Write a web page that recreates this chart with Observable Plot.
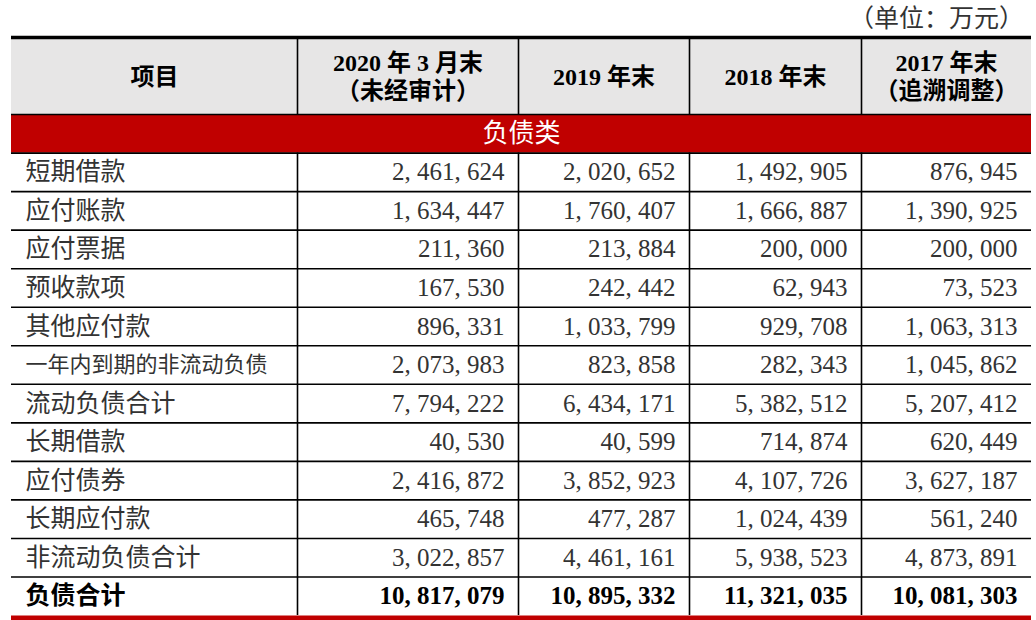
<!DOCTYPE html>
<html><head><meta charset="utf-8">
<script src="https://cdn.jsdelivr.net/npm/d3@7"></script>
<script src="https://cdn.jsdelivr.net/npm/@observablehq/plot@0.6"></script>
<style>
body{margin:0;background:#fff;}
#unit{height:33px;line-height:33px;text-align:right;padding-right:12px;font-family:"Noto Sans CJK SC";font-size:25px;color:#333;}
</style></head><body>
<div id="unit">（单位：万元）</div>
<div id="chart"></div>
<script>
// ---- data ----
const columns = ["项目", "2020 年 3 月末\n（未经审计）", "2019 年末", "2018 年末", "2017 年末\n（追溯调整）"];
const section = "负债类";
const items = ["短期借款", "应付账款", "应付票据", "预收款项", "其他应付款", "一年内到期的非流动负债",
  "流动负债合计", "长期借款", "应付债券", "长期应付款", "非流动负债合计", "负债合计"];
const v2020Q1 = [2461624, 1634447, 211360, 167530, 896331, 2073983, 7794222, 40530, 2416872, 465748, 3022857, 10817079];
const v2019 = [2020652, 1760407, 213884, 242442, 1033799, 823858, 6434171, 40599, 3852923, 477287, 4461161, 10895332];
const v2018 = [1492905, 1666887, 200000, 62943, 929708, 282343, 5382512, 714874, 4107726, 1024439, 5938523, 11321035];
const v2017 = [876945, 1390925, 200000, 73523, 1063313, 1045862, 5207412, 620449, 3627187, 561240, 4873891, 10081303];

// ---- layout ----
const colWidths = [286, 221, 171, 172, 170];
const edges = [0];
colWidths.forEach(w => edges.push(edges[edges.length - 1] + w));
const total = edges[edges.length - 1];
const HEADER = 2, BAND = 1, FIRST = HEADER + BAND;
const nRows = items.length;
const bottom = FIRST + nRows;
const series = [v2020Q1, v2019, v2018, v2017];
const fmt = v => d3.format(",")(v).replace(/,/g, ", ");

const names = items.map((name, i) => ({name, y: FIRST + i + 0.5, total: i === nRows - 1}));
const cells = [];
series.forEach((arr, c) => arr.forEach((v, i) => cells.push({
  x: edges[c + 2], y: FIRST + i + 0.5, label: fmt(v), total: i === nRows - 1
})));
const heads = columns.map((label, c) => ({label, x: (edges[c] + edges[c + 1]) / 2, y: HEADER / 2}));

const FONT = '"Liberation Serif", "Noto Sans CJK SC", serif';
const CJK = '"Noto Sans CJK SC", sans-serif';

const chart = Plot.plot({
  width: 1036, height: 587,
  marginTop: 4, marginBottom: 5, marginLeft: 11, marginRight: 5,
  x: {domain: [0, total], axis: null},
  y: {domain: [0, bottom], reverse: true, axis: null},
  style: {fontFamily: FONT, background: "#fff"},
  marks: [
    Plot.rect([{x1: 0, x2: total, y1: 0, y2: HEADER}], {x1: "x1", x2: "x2", y1: "y1", y2: "y2", fill: "#e7e6e6"}),
    Plot.rect([{x1: 0, x2: total, y1: HEADER, y2: FIRST}], {x1: "x1", x2: "x2", y1: "y1", y2: "y2", fill: "#c00000"}),
    Plot.ruleY(d3.range(HEADER, bottom), {x1: 0, x2: total, stroke: "#000", strokeWidth: 1.6}),
    Plot.ruleX(edges.slice(1, -1), {y1: 0, y2: HEADER, stroke: "#000", strokeWidth: 1.6}),
    Plot.ruleX(edges.slice(1, -1), {y1: FIRST, y2: bottom, stroke: "#000", strokeWidth: 1.6}),
    Plot.ruleY([0], {x1: 0, x2: total, stroke: "#000", strokeWidth: 3.5}),
    Plot.ruleY([bottom], {x1: 0, x2: total, stroke: "#c00000", strokeWidth: 10, dy: 5}),
    Plot.text(heads, {x: "x", y: "y", text: "label", fontSize: 24, fontWeight: "bold", lineHeight: 1.17, fill: "#000", fontFamily: FONT}),
    Plot.text([section], {x: total / 2, y: HEADER + BAND / 2, text: d => d, fill: "#fff", fontSize: 26, fontFamily: CJK}),
    Plot.text(names.filter(d => !d.total), {x: 0, y: "y", text: "name", dx: 14, textAnchor: "start", fill: "#333",
      fontSize: d => d.name.length > 8 ? 22 : 25, fontFamily: CJK}),
    Plot.text(names.filter(d => d.total), {x: 0, y: "y", text: "name", dx: 14, textAnchor: "start", fill: "#000",
      fontSize: 25, fontWeight: "bold", fontFamily: CJK}),
    Plot.text(cells.filter(d => !d.total), {x: "x", y: "y", text: "label", dx: -14, textAnchor: "end", fill: "#333", fontSize: 25, fontFamily: FONT}),
    Plot.text(cells.filter(d => d.total), {x: "x", y: "y", text: "label", dx: -14, textAnchor: "end", fill: "#000", fontSize: 25, fontWeight: "bold", fontFamily: FONT})
  ]
});
document.getElementById("chart").appendChild(chart);
</script>
</body></html>
